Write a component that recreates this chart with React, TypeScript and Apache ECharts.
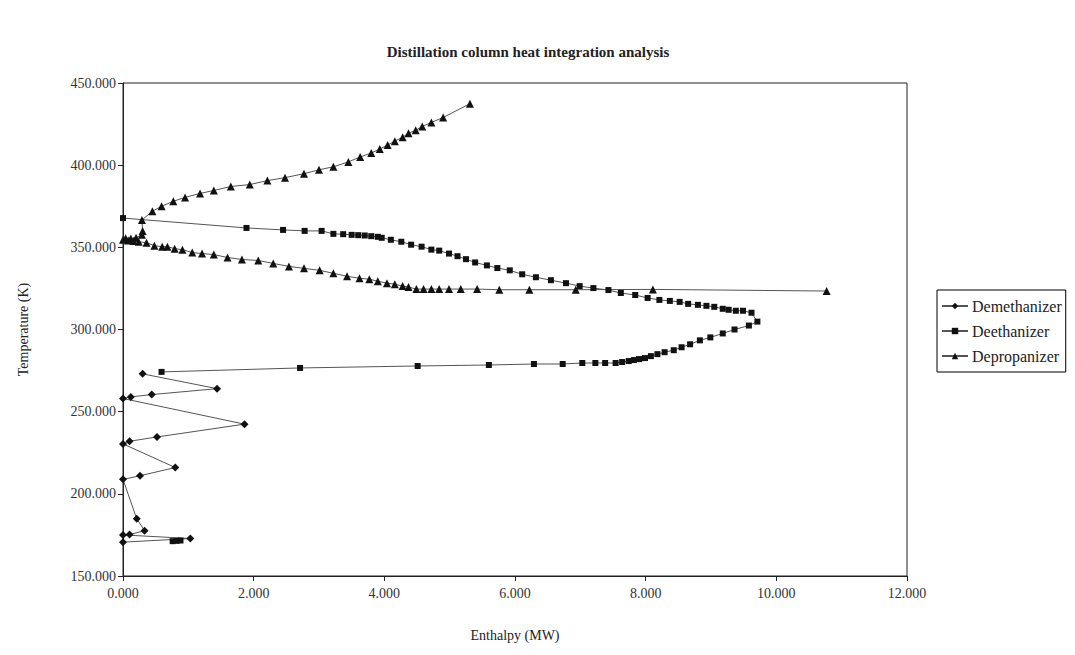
import React, { useEffect, useRef } from "react";
import * as echarts from "echarts";

const title = "Distillation column heat integration analysis";
const xName = "Enthalpy (MW)";
const yName = "Temperature (K)";
const seriesNames = ["Demethanizer", "Deethanizer", "Depropanizer"];

const demethanizer: [number, number][] = [
  [0.3, 273], [1.44, 264], [0.44, 260.4], [0.12, 259], [0, 258],
  [1.86, 242.4], [0.52, 234.6], [0.1, 232], [0, 230.4],
  [0.8, 216], [0.26, 211], [0, 208.8],
  [0.21, 184.8], [0.33, 177.6], [0.1, 175.2], [0, 175],
  [1.03, 172.8], [0, 170.6],
];

const deethanizer: [number, number][] = [
  [0, 367.8], [1.89, 361.8], [2.45, 360.6], [2.78, 360], [3.04, 360], [3.22, 358.2],
  [3.37, 358], [3.5, 357.6], [3.6, 357.4], [3.7, 357.2], [3.8, 356.8], [3.9, 356.4],
  [3.96, 355.8], [4.1, 354.6], [4.26, 353.4], [4.41, 351.6], [4.57, 350.4], [4.72, 348.6],
  [4.84, 348], [4.99, 346.2], [5.12, 344.6], [5.25, 342.8], [5.39, 340.8], [5.57, 339],
  [5.73, 337.4], [5.92, 336], [6.11, 333.6], [6.32, 331.8], [6.55, 330], [6.78, 328.2],
  [6.99, 326.4], [7.2, 325.2], [7.43, 324], [7.62, 322.2], [7.84, 321], [8.03, 319.2],
  [8.21, 318], [8.37, 317.4], [8.52, 316.8], [8.65, 315.6], [8.8, 315], [8.93, 314.4],
  [9.05, 313.8], [9.18, 312.6], [9.27, 312], [9.38, 311.4], [9.49, 311.4], [9.62, 310.2],
  [9.71, 304.8], [9.58, 302.4], [9.36, 300], [9.18, 297.6], [8.99, 295.2], [8.83, 293.4],
  [8.68, 291], [8.55, 289.2], [8.43, 287.4], [8.29, 286.2], [8.18, 285], [8.08, 283.8],
  [7.99, 282.6], [7.9, 282], [7.82, 281.4], [7.74, 280.8], [7.64, 280.2], [7.54, 279.6],
  [7.38, 279.6], [7.23, 279.6], [7.03, 279.6], [6.73, 279], [6.29, 279], [5.6, 278.4],
  [4.51, 277.8], [2.71, 276.6], [0.59, 274.2],
];

const deethanizerBottom: [number, number][] = [
  [0.76, 171.2], [0.82, 171.4], [0.88, 171.6],
];

const depropanizer: [number, number][] = [
  [5.31, 437.4], [4.9, 429], [4.72, 426], [4.58, 423.6], [4.48, 421.2], [4.37, 419.4],
  [4.28, 417], [4.16, 414.6], [4.05, 412.2], [3.93, 409.8], [3.8, 407.4], [3.63, 405],
  [3.45, 402], [3.22, 399], [3.0, 397.2], [2.77, 394.8], [2.48, 392.4], [2.21, 390.6],
  [1.94, 388.2], [1.65, 387], [1.39, 384.6], [1.18, 382.8], [0.95, 380.4], [0.77, 378],
  [0.59, 375], [0.45, 372], [0.29, 366.6], [0.3, 360], [0.29, 357.6], [0.2, 355.8],
  [0.12, 355.4], [0.04, 355.6], [0, 354.6], [0.08, 354.2], [0.16, 353.8], [0.24, 353.4],
  [0.36, 352.8], [0.48, 351], [0.6, 350.4], [0.68, 350.4], [0.79, 349.2], [0.91, 348.6],
  [1.06, 346.8], [1.21, 346.2], [1.39, 345.6], [1.6, 343.8], [1.82, 342.6], [2.07, 342],
  [2.3, 340.2], [2.54, 338.4], [2.77, 337.2], [3.01, 336], [3.22, 334.2], [3.43, 332.4],
  [3.62, 331.2], [3.77, 330.6], [3.9, 329.4], [4.04, 328.2], [4.16, 327.6], [4.28, 326.4],
  [4.37, 325.8], [4.49, 324.6], [4.6, 324.6], [4.72, 324.6], [4.84, 324.6], [4.99, 324.6],
  [5.17, 324.6], [5.42, 324.6], [5.76, 324.2], [6.22, 324.2], [6.93, 324.2], [8.11, 324.4],
  [10.77, 323.4],
];

const FONT = "'Liberation Serif', 'DejaVu Serif', serif";
const LINE = "#555";
const MARK = "#111";

export default function App() {
  const ref = useRef<HTMLDivElement>(null);
  useEffect(() => {
    const chart = echarts.init(ref.current!, null, { renderer: "svg" });
    const mk = (name: string, data: [number, number][], symbol: string, size: number) => ({
      name,
      type: "line",
      data,
      symbol,
      symbolSize: size,
      showSymbol: true,
      lineStyle: { color: LINE, width: 1 },
      itemStyle: { color: MARK },
      emphasis: { disabled: true },
    });
    chart.setOption({
      animation: false,
      backgroundColor: "#fff",
      title: {
        text: title,
        left: 515,
        textAlign: "center",
        top: 31,
        textStyle: { fontFamily: FONT, fontSize: 15, fontWeight: "bold", color: "#222" },
      },
      legend: {
        orient: "vertical",
        left: 929,
        top: 282,
        data: seriesNames,
        borderColor: "#000",
        borderWidth: 1,
        borderRadius: 0,
        padding: [8, 4, 8, 4],
        itemGap: 9,
        itemWidth: 26,
        itemHeight: 8,
        textStyle: { fontFamily: FONT, fontSize: 16, color: "#222", padding: [0, 0, 0, -1] },
      },
      grid: {
        left: 107,
        right: 160,
        top: 75,
        bottom: 64,
        show: true,
        borderColor: "#222",
        borderWidth: 1,
        backgroundColor: "transparent",
      },
      xAxis: {
        type: "value",
        min: 0,
        max: 12,
        interval: 2,
        name: xName,
        nameLocation: "middle",
        nameGap: 52,
        nameTextStyle: { fontFamily: FONT, fontSize: 14, color: "#222" },
        axisLine: { lineStyle: { color: "#222", width: 1 } },
        axisTick: { show: true, inside: false, length: 5, lineStyle: { color: "#222" } },
        axisLabel: {
          fontFamily: FONT,
          fontSize: 14,
          color: "#333",
          margin: 10,
          formatter: (v: number) => v.toFixed(3),
        },
        splitLine: { show: false },
      },
      yAxis: {
        type: "value",
        min: 150,
        max: 450,
        interval: 50,
        name: yName,
        nameLocation: "middle",
        nameGap: 93,
        nameRotate: 90,
        nameTextStyle: { fontFamily: FONT, fontSize: 14, color: "#222" },
        axisLine: { show: true, lineStyle: { color: "#222", width: 1 } },
        axisTick: { show: true, inside: false, length: 5, lineStyle: { color: "#222" } },
        axisLabel: {
          fontFamily: FONT,
          fontSize: 14,
          color: "#333",
          margin: 7,
          formatter: (v: number) => v.toFixed(3),
        },
        splitLine: { show: false },
      },
      series: [
        mk(seriesNames[0], demethanizer, "diamond", 8),
        mk(seriesNames[1], deethanizer, "rect", 6),
        mk(seriesNames[2], depropanizer, "triangle", 8),
        mk(seriesNames[1], deethanizerBottom, "rect", 6),
      ],
    });
    return () => chart.dispose();
  }, []);
  return <div ref={ref} style={{ width: 1059, height: 639 }} />;
}
